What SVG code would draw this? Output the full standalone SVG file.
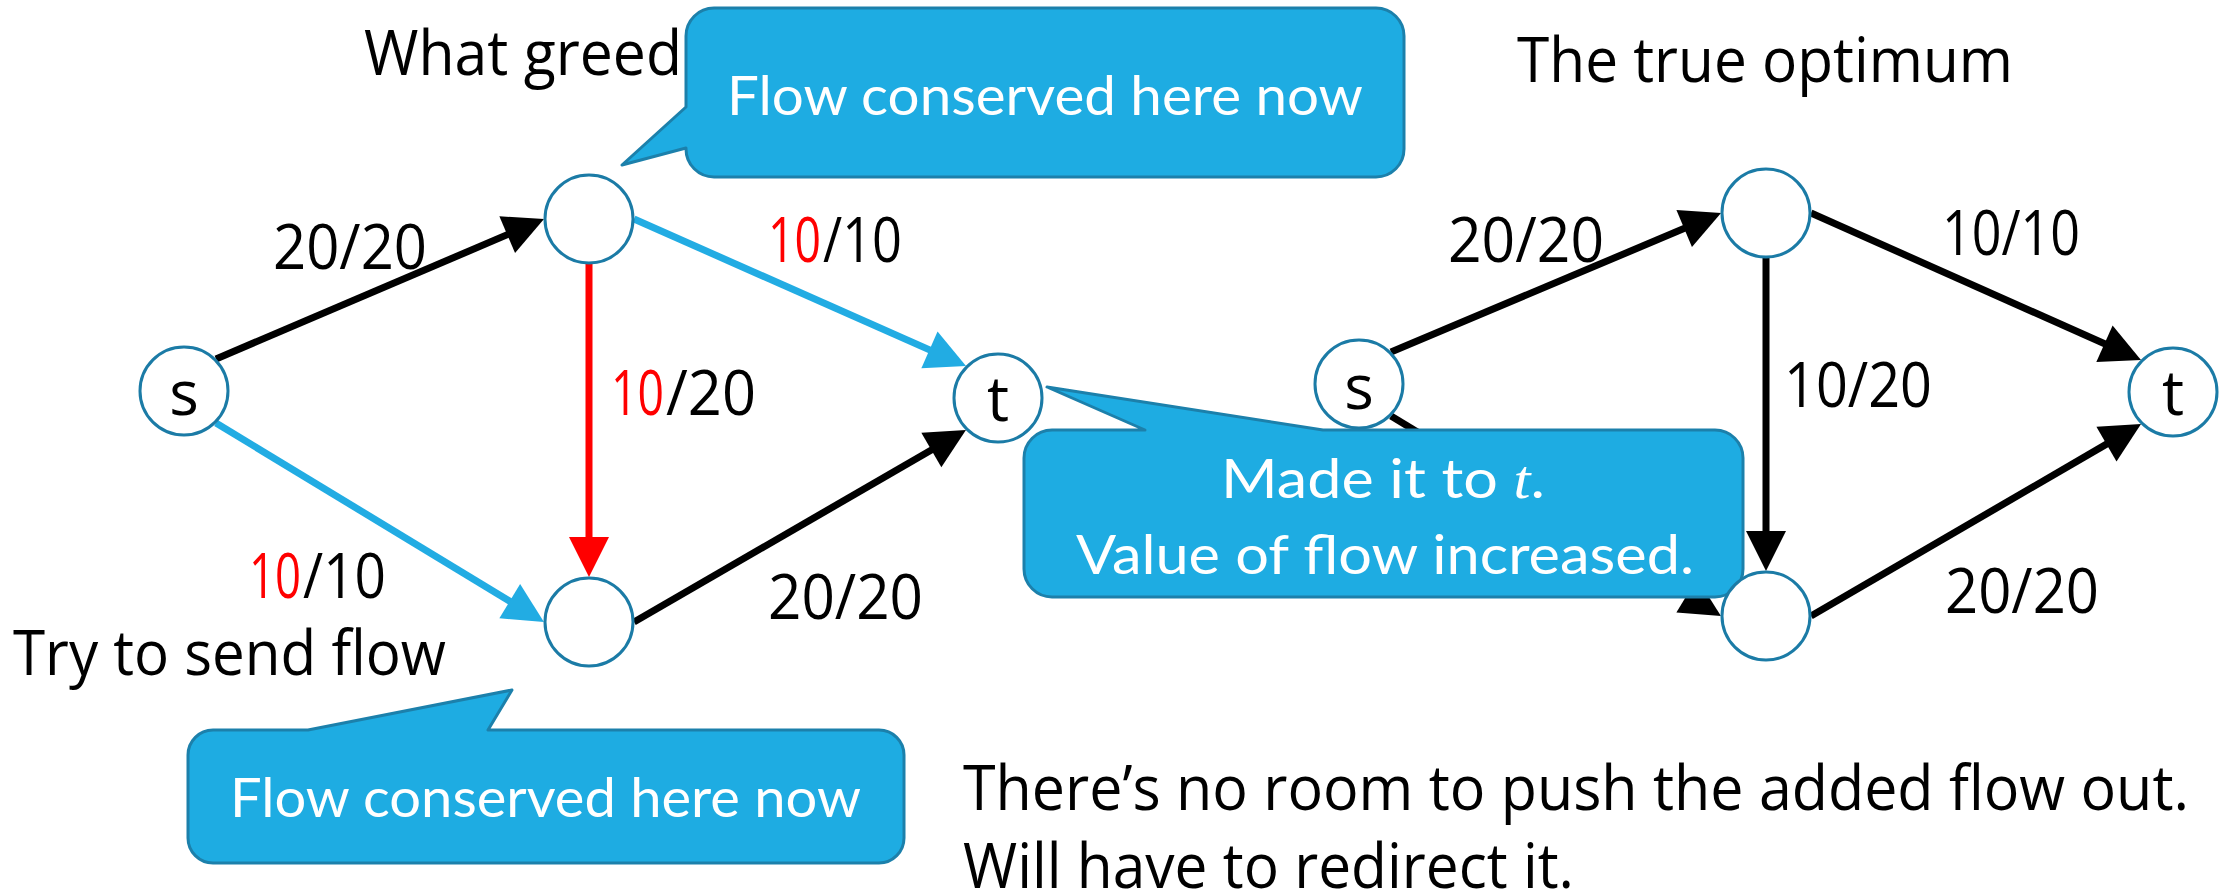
<svg xmlns="http://www.w3.org/2000/svg" width="2220" height="891" viewBox="0 0 2220 891">
  <defs>
    <style>
      .lbl { font-family: "Open Sans", "Liberation Sans", sans-serif; font-size: 62px; fill: #000; }
      .red { fill: #FF0000; }
      .node circle { fill: #FFFFFF; stroke: #1B7BA6; stroke-width: 3; }
      .node text { font-family: "Open Sans", "Liberation Sans", sans-serif; font-size: 62px; fill: #000; text-anchor: middle; }
      .edge { fill: none; stroke-width: 7; stroke-linecap: butt; }
      .blk { stroke: #000000; marker-end: url(#ahBlack); }
      .cyn { stroke: #22ACE3; marker-end: url(#ahCyan); }
      .rd { stroke: #FF0000; marker-end: url(#ahRed); }
      .callout path { fill: #1EACE2; stroke: #1C80AB; stroke-width: 3; stroke-linejoin: round; }
      .callout text { font-family: "Lato", "Noto Sans", sans-serif; font-size: 55px; fill: #FFFFFF; }
    </style>
    <marker id="ahBlack" markerUnits="userSpaceOnUse" markerWidth="40" markerHeight="40" refX="10" refY="20" orient="auto" overflow="visible">
      <path d="M0,0 L40,20 L0,40 Z" fill="#000000"/>
    </marker>
    <marker id="ahCyan" markerUnits="userSpaceOnUse" markerWidth="40" markerHeight="40" refX="10" refY="20" orient="auto" overflow="visible">
      <path d="M0,0 L40,20 L0,40 Z" fill="#22ACE3"/>
    </marker>
    <marker id="ahRed" markerUnits="userSpaceOnUse" markerWidth="40" markerHeight="40" refX="10" refY="20" orient="auto" overflow="visible">
      <path d="M0,0 L40,20 L0,40 Z" fill="#FF0000"/>
    </marker>
  </defs>

  <rect x="0" y="0" width="2220" height="891" fill="#FFFFFF"/>

  <!-- headings and notes -->
  <g id="titles">
    <text class="lbl" x="364" y="75" textLength="318" lengthAdjust="spacingAndGlyphs">What greed</text>
    <text class="lbl" x="13" y="675" textLength="433" lengthAdjust="spacingAndGlyphs">Try to send flow</text>
    <text class="lbl" x="1517" y="82" textLength="496" lengthAdjust="spacingAndGlyphs">The true optimum</text>
    <text class="lbl" x="963" y="810" textLength="1226" lengthAdjust="spacingAndGlyphs">There’s no room to push the added flow out.</text>
    <text class="lbl" x="963" y="888" textLength="611" lengthAdjust="spacingAndGlyphs">Will have to redirect it.</text>
  </g>

  <!-- connectors -->
  <g id="connectors">
    <!-- greedy network -->
    <line class="edge blk" x1="216" y1="359" x2="516.4" y2="230.8"/>
    <line class="edge cyn" x1="634" y1="219" x2="938.6" y2="353.9"/>
    <line class="edge rd" x1="589" y1="264" x2="589" y2="547"/>
    <line class="edge cyn" x1="216" y1="423" x2="518.3" y2="606.4"/>
    <line class="edge blk" x1="634" y1="622" x2="940" y2="445"/>
    <!-- optimal network -->
    <line class="edge blk" x1="1391" y1="352" x2="1693.4" y2="224.6"/>
    <line class="edge blk" x1="1811" y1="213" x2="2113.6" y2="347.8"/>
    <line class="edge blk" x1="1766" y1="258" x2="1766" y2="541"/>
    <line class="edge blk" x1="1391" y1="416" x2="1695.3" y2="600.5"/>
    <line class="edge blk" x1="1811" y1="616" x2="2115.1" y2="439.1"/>
  </g>

  <!-- edge labels (flow / capacity) -->
  <g id="edge-labels">
    <text class="lbl" x="273" y="269" textLength="154" lengthAdjust="spacingAndGlyphs">20/20</text>
    <text class="lbl red" x="768" y="262" textLength="53" lengthAdjust="spacingAndGlyphs">10</text>
    <text class="lbl" x="823" y="262" textLength="79" lengthAdjust="spacingAndGlyphs">/10</text>
    <text class="lbl red" x="611" y="415" textLength="53" lengthAdjust="spacingAndGlyphs">10</text>
    <text class="lbl" x="666" y="415" textLength="90" lengthAdjust="spacingAndGlyphs">/20</text>
    <text class="lbl red" x="249" y="598" textLength="52" lengthAdjust="spacingAndGlyphs">10</text>
    <text class="lbl" x="303" y="598" textLength="83" lengthAdjust="spacingAndGlyphs">/10</text>
    <text class="lbl" x="768" y="619" textLength="155" lengthAdjust="spacingAndGlyphs">20/20</text>
    <text class="lbl" x="1448" y="262" textLength="156" lengthAdjust="spacingAndGlyphs">20/20</text>
    <text class="lbl" x="1942" y="255" textLength="138" lengthAdjust="spacingAndGlyphs">10/10</text>
    <text class="lbl" x="1784" y="407" textLength="148" lengthAdjust="spacingAndGlyphs">10/20</text>
    <text class="lbl" x="1945" y="613" textLength="154" lengthAdjust="spacingAndGlyphs">20/20</text>
  </g>

  <!-- callouts -->
  <g id="callout-top" class="callout">
    <path d="M714,8 H1376 A28,28 0 0 1 1404,36 V149 A28,28 0 0 1 1376,177 H714 A28,28 0 0 1 686,149 V148 L622,165 L686,107 V36 A28,28 0 0 1 714,8 Z"/>
    <text x="727" y="115" textLength="636" lengthAdjust="spacingAndGlyphs">Flow conserved here now</text>
  </g>
  <g id="callout-bottom" class="callout">
    <path d="M213,730 H308 L512,690 L488,730 H879 A25,25 0 0 1 904,755 V838 A25,25 0 0 1 879,863 H213 A25,25 0 0 1 188,838 V755 A25,25 0 0 1 213,730 Z"/>
    <text x="230" y="817" textLength="631" lengthAdjust="spacingAndGlyphs">Flow conserved here now</text>
  </g>
  <g id="callout-middle" class="callout">
    <path d="M1052,430 H1145 L1047,387 L1323,430 H1715 A28,28 0 0 1 1743,458 V569 A28,28 0 0 1 1715,597 H1052 A28,28 0 0 1 1024,569 V458 A28,28 0 0 1 1052,430 Z"/>
    <text x="1221" y="498" textLength="324" lengthAdjust="spacingAndGlyphs">Made it to <tspan font-family="Liberation Serif, serif" font-style="italic">t</tspan>.</text>
    <text x="1076" y="574" textLength="618" lengthAdjust="spacingAndGlyphs">Value of flow increased.</text>
  </g>

  <!-- nodes: greedy network -->
  <g id="n-s1" class="node"><circle cx="184" cy="391" r="44"/><text x="184" y="415">s</text></g>
  <g id="n-a1" class="node"><circle cx="589" cy="219" r="44"/></g>
  <g id="n-b1" class="node"><circle cx="589" cy="622" r="44"/></g>
  <g id="n-t1" class="node"><circle cx="998" cy="398" r="44"/><text x="998" y="421">t</text></g>

  <!-- nodes: optimal network -->
  <g id="n-s2" class="node"><circle cx="1359" cy="384" r="44"/><text x="1359" y="409">s</text></g>
  <g id="n-a2" class="node"><circle cx="1766" cy="213" r="44"/></g>
  <g id="n-b2" class="node"><circle cx="1766" cy="616" r="44"/></g>
  <g id="n-t2" class="node"><circle cx="2173" cy="392" r="44"/><text x="2173" y="415">t</text></g>
</svg>
